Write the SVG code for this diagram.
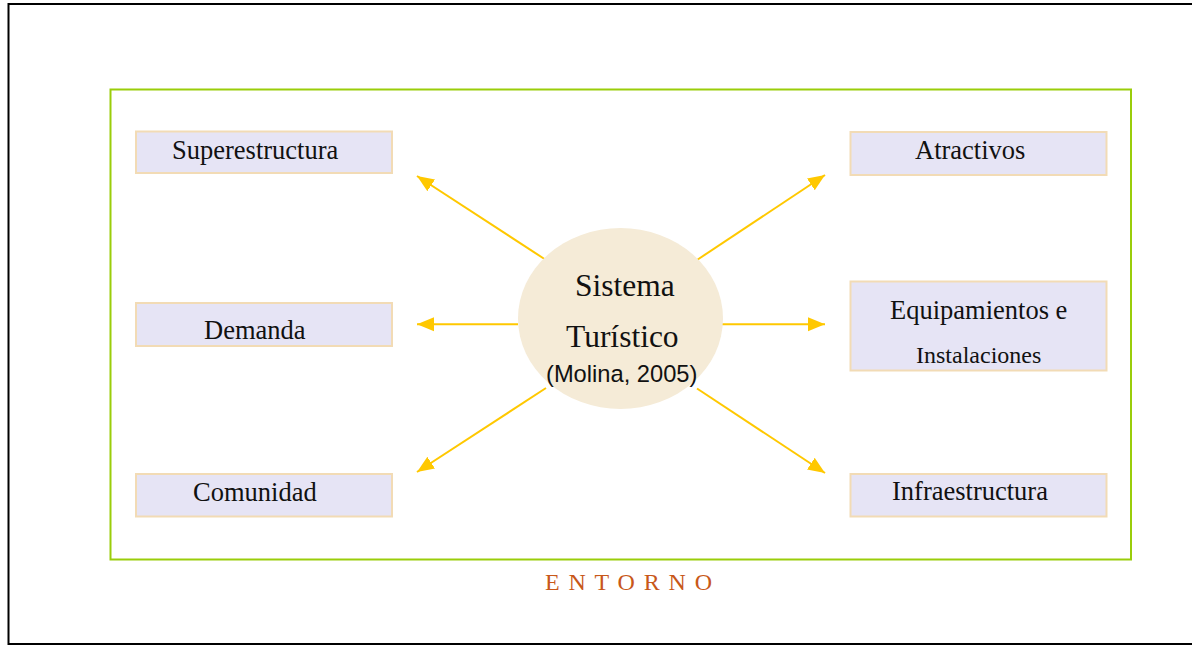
<svg xmlns="http://www.w3.org/2000/svg" width="1192" height="645" viewBox="0 0 1192 645">
  <defs>
    <marker id="arr" markerUnits="userSpaceOnUse" markerWidth="18" markerHeight="16" viewBox="0 0 18 16" refX="17" refY="8" orient="auto">
      <path d="M0,1 L17,8 L0,15 Z" fill="#FFC800"/>
    </marker>
    <style>
      .box { fill: #E6E4F5; stroke: #F2DBB5; stroke-width: 2; }
      .lbl { font-family: "Liberation Serif", "Times New Roman", serif; font-size: 26.5px; fill: #111; }
      .conn { stroke: #FFC800; stroke-width: 2; fill: none; marker-end: url(#arr); }
    </style>
  </defs>
  <rect width="1192" height="645" fill="#fff"/>
  <path d="M1194,4 H8.5 V644 H1194" fill="none" stroke="#000" stroke-width="2"/>
  <g id="entorno">
    <rect x="110.5" y="89.5" width="1020.5" height="470" fill="none" stroke="#9ACD0A" stroke-width="2"/>
    <text x="545" y="590" font-family="Liberation Serif, serif" font-size="24" letter-spacing="8.8" fill="#C8581A">ENTORNO</text>
  </g>
  <g id="connectors">
    <line class="conn" x1="546" y1="260" x2="417" y2="176"/>
    <line class="conn" x1="518" y1="324.3" x2="417" y2="324.3"/>
    <line class="conn" x1="546" y1="388" x2="417" y2="472"/>
    <line class="conn" x1="697" y1="260" x2="825" y2="175"/>
    <line class="conn" x1="722" y1="324.3" x2="825" y2="324.3"/>
    <line class="conn" x1="697" y1="388.5" x2="825" y2="473"/>
  </g>
  <g id="sistema">
    <ellipse cx="620.5" cy="318.5" rx="102.5" ry="90.5" fill="#F5EBD7"/>
    <text x="575" y="296" font-family="Liberation Serif, serif" font-size="31.5" fill="#111">Sistema</text>
    <text x="566" y="346.5" font-family="Liberation Serif, serif" font-size="31.5" fill="#111">Turístico</text>
    <text x="546" y="382" font-family="Liberation Sans, Arial, sans-serif" font-size="23.7" fill="#111">(Molina, 2005)</text>
  </g>
  <g id="superestructura">
    <rect class="box" x="136" y="131.5" width="256" height="41.5"/>
    <text class="lbl" x="172" y="158.5">Superestructura</text>
  </g>
  <g id="demanda">
    <rect class="box" x="136" y="303" width="256" height="43"/>
    <text class="lbl" x="204" y="339">Demanda</text>
  </g>
  <g id="comunidad">
    <rect class="box" x="136" y="474" width="256" height="42.5"/>
    <text class="lbl" x="193" y="500.5">Comunidad</text>
  </g>
  <g id="atractivos">
    <rect class="box" x="850.5" y="132" width="256" height="43"/>
    <text class="lbl" x="915" y="159">Atractivos</text>
  </g>
  <g id="equipamientos">
    <rect class="box" x="850.5" y="281.5" width="256" height="89"/>
    <text class="lbl" x="890" y="319">Equipamientos e</text>
    <text class="lbl" x="916" y="362.5" style="font-size:24px">Instalaciones</text>
  </g>
  <g id="infraestructura">
    <rect class="box" x="850.5" y="474" width="256" height="42.5"/>
    <text class="lbl" x="892" y="500">Infraestructura</text>
  </g>
</svg>
